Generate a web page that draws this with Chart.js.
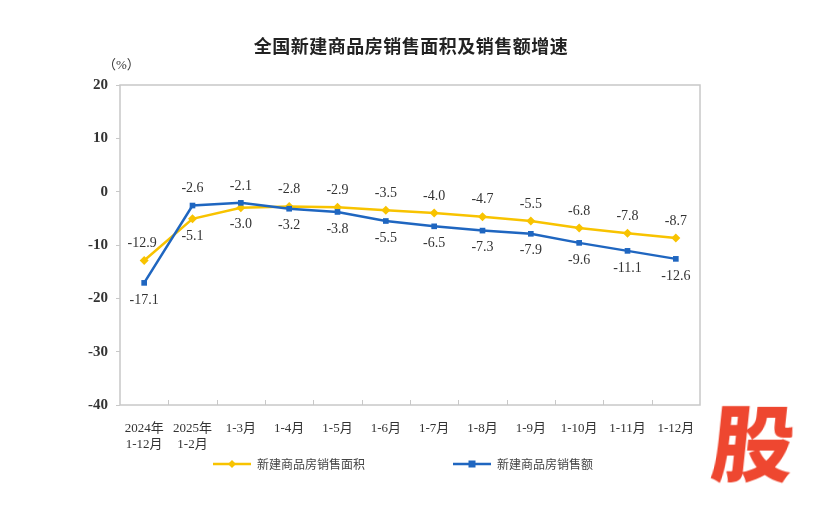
<!DOCTYPE html>
<html><head><meta charset="utf-8">
<script src="https://cdn.jsdelivr.net/npm/chart.js@4/dist/chart.umd.min.js"></script>
<style>
body{margin:0;background:#fff;width:822px;height:507px;overflow:hidden;position:relative;font-family:"Liberation Serif","Noto Sans CJK SC",serif}
#title{position:absolute;top:32px;left:0;width:822px;text-align:center;font:bold 18px "Noto Sans CJK SC";color:#222;letter-spacing:0.5px}
#unit{position:absolute;top:54px;left:103px;font:13px "Liberation Serif","Noto Sans CJK SC";color:#333}
.leg{position:absolute;top:455px;font:12px "Noto Sans CJK SC";color:#444;display:flex;align-items:center}
.leg canvas{margin-right:6px}
#gu{position:absolute;left:713px;top:398px;font:900 82px "Noto Sans CJK SC";color:#ee4730;line-height:1;transform:skewX(-6deg)}
</style></head><body>
<div id="title">全国新建商品房销售面积及销售额增速</div>
<div id="unit">（%）</div>
<canvas id="c" width="822" height="507"></canvas>
<div class="leg" style="left:213px"><canvas id="l1" width="38" height="10"></canvas>新建商品房销售面积</div>
<div class="leg" style="left:453px"><canvas id="l2" width="38" height="10"></canvas>新建商品房销售额</div>
<div id="gu">股</div>
<script>
const categories = [['2024年','1-12月'],['2025年','1-2月'],'1-3月','1-4月','1-5月','1-6月','1-7月','1-8月','1-9月','1-10月','1-11月','1-12月'];
const areaGrowth = [-12.9, -5.1, -3.0, -2.8, -2.9, -3.5, -4.0, -4.7, -5.5, -6.8, -7.8, -8.7];
const salesGrowth = [-17.1, -2.6, -2.1, -3.2, -3.8, -5.5, -6.5, -7.3, -7.9, -9.6, -11.1, -12.6];
const yellow = '#f8c300', blue = '#1f66c0';

//legend swatches
function swatch(id, color, style){
  const g = document.getElementById(id).getContext('2d');
  g.strokeStyle = color; g.lineWidth = 2.5;
  g.beginPath(); g.moveTo(0,5); g.lineTo(38,5); g.stroke();
  g.fillStyle = color;
  if (style === 'diamond') { g.beginPath(); g.moveTo(19,1); g.lineTo(23,5); g.lineTo(19,9); g.lineTo(15,5); g.fill(); }
  else g.fillRect(15.5,1.5,7,7);
}
swatch('l1', yellow, 'diamond');
swatch('l2', blue, 'rect');

const frame = {
  id: 'frame',
  afterDraw(chart){
    const {ctx, chartArea: a, scales: {x}} = chart;
    ctx.save();
    ctx.strokeStyle = '#c8c8c8'; ctx.lineWidth = 1.5;
    ctx.strokeRect(a.left, a.top, a.right - a.left, a.bottom - a.top);
    ctx.lineWidth = 1;
    const w = (a.right - a.left) / categories.length;
    for (let i = 1; i < categories.length; i++) {
      const px = Math.round(a.left + i * w) + 0.5;
      ctx.beginPath(); ctx.moveTo(px, a.bottom); ctx.lineTo(px, a.bottom - 5); ctx.stroke();
    }
    //value labels: higher value above, lower below
    ctx.font = '14px "Liberation Serif"'; ctx.fillStyle = '#333'; ctx.textAlign = 'center';
    const ys = chart.scales.y;
    categories.forEach((c, i) => {
      const px = x.getPixelForValue(i);
      const hi = Math.max(areaGrowth[i], salesGrowth[i]);
      const lo = Math.min(areaGrowth[i], salesGrowth[i]);
      ctx.textBaseline = 'bottom';
      ctx.fillText(hi.toFixed(1), px + (i === 0 ? -2 : 0), ys.getPixelForValue(hi) - 10);
      ctx.textBaseline = 'top';
      ctx.fillText(lo.toFixed(1), px, ys.getPixelForValue(lo) + 10);
    });
    ctx.restore();
  }
};

new Chart(document.getElementById('c'), {
  type: 'line',
  data: {
    labels: categories,
    datasets: [
      {label: '新建商品房销售面积', data: areaGrowth, borderColor: yellow, backgroundColor: yellow,
       borderWidth: 2.5, pointStyle: 'rectRot', pointRadius: 4.5, pointBorderWidth: 0, order: 2},
      {label: '新建商品房销售额', data: salesGrowth, borderColor: blue, backgroundColor: blue,
       borderWidth: 2.5, pointStyle: 'rect', pointRadius: 4, pointBorderWidth: 0, order: 1}
    ]
  },
  options: {
    responsive: false,
    animation: false,
    layout: {padding: {left: 0, right: 122, top: 85, bottom: 0}},
    plugins: {legend: {display: false}, tooltip: {enabled: false}},
    scales: {
      x: {
        offset: true,
        grid: {display: false},
        border: {display: false},
        ticks: {color: '#333', font: {family: 'Liberation Serif, Noto Sans CJK SC', size: 13}, maxRotation: 0, autoSkip: false, padding: 8},
        afterFit(s){ s.height = 102; }
      },
      y: {
        min: -40, max: 20,
        ticks: {stepSize: 10, color: '#333', font: {family: 'Liberation Serif', size: 15, weight: 'bold'}, padding: 8},
        grid: {drawOnChartArea: false, tickLength: 4, color: '#c8c8c8'},
        border: {display: false},
        afterFit(s){ s.width = 120; }
      }
    }
  },
  plugins: [frame]
});
</script>
</body></html>
